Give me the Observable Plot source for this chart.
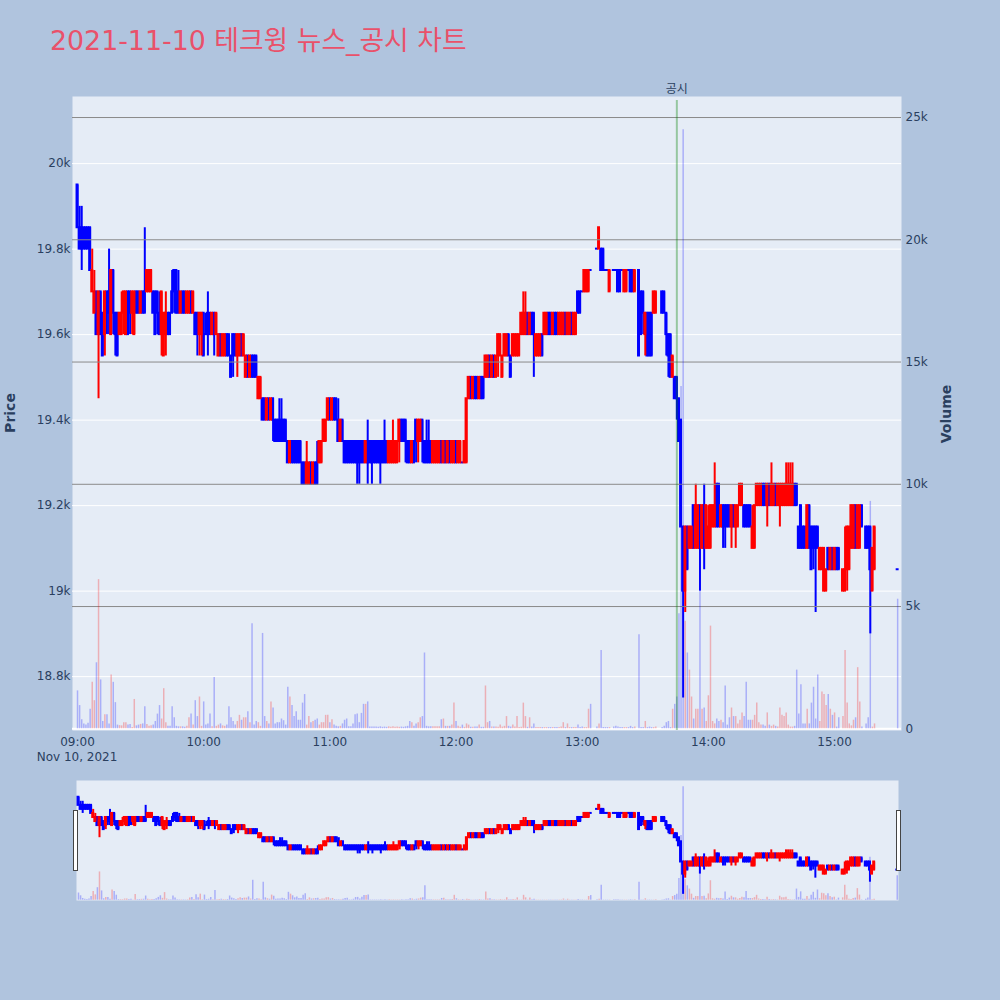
<!DOCTYPE html>
<html>
<head>
<meta charset="utf-8">
<script src="https://cdn.jsdelivr.net/npm/d3@7"></script>
<script src="https://cdn.jsdelivr.net/npm/@observablehq/plot@0.6"></script>
<style>
  html, body { margin: 0; padding: 0; background: #B0C4DE; }
  #wrap { position: relative; width: 1000px; height: 1000px; background: #B0C4DE; overflow: hidden;
          font-family: "DejaVu Sans", "Noto Sans CJK KR", sans-serif; color: #2a3f5f; }
  .layer { position: absolute; left: 0; top: 0; }
  .layer svg { display: block; }
  #title { position: absolute; left: 50px; top: 28px; font-size: 26.8px; line-height: 26px; color: #E9516A; white-space: nowrap; }
  .axtitle { position: absolute; font-size: 14px; font-weight: bold; line-height: 16px; white-space: nowrap; transform: translate(-50%, -50%) rotate(-90deg); }
  #date { position: absolute; left: 77px; top: 750px; font-size: 12px; line-height: 14px; transform: translateX(-50%); white-space: nowrap; }
  .handle { position: absolute; top: 810px; width: 5px; height: 61px; box-sizing: border-box; background: #fff; border: 1px solid #444; }
</style>
</head>
<body>
<div id="wrap">
  <div id="title"></div>
  <div id="mainPrice" class="layer"></div>
  <div id="mainVol" class="layer"></div>
  <div id="sliderVol" class="layer" style="top:780px"></div>
  <div id="sliderPrice" class="layer" style="top:780px"></div>
  <div class="handle" style="left:73px"></div>
  <div class="handle" style="left:896px"></div>
  <div class="axtitle" style="left:10px; top:413px">Price</div>
  <div class="axtitle" style="left:946px; top:414px">Volume</div>
  <div id="date">Nov 10, 2021</div>
</div>
<script>
// ---------- data ----------
const chartTitle = "2021-11-10 테크윙 뉴스_공시 차트";
const sessionDate = "2021-11-10";
const timeTicks = ["09:00", "10:00", "11:00", "12:00", "13:00", "14:00", "15:00"];
const priceTicks = [18800, 19000, 19200, 19400, 19600, 19800, 20000];
const volumeTicks = [0, 5000, 10000, 15000, 20000, 25000];
const disclosure = [{ time: "13:45", label: "공시" }];

// rows: [minute after 09:00, open, high, low, close, volume]
const bars0900 = [
  [0,19950,19950,19850,19850,1550],[1,19850,19900,19800,19800,950],[2,19850,19900,19750,19800,370],
  [3,19850,19850,19800,19800,200],[4,19850,19850,19800,19800,150],[5,19850,19850,19800,19800,230],
  [6,19850,19850,19750,19750,800],[7,19700,19800,19700,19750,1900],[8,19650,19750,19650,19700,1150],
  [9,19700,19700,19600,19600,2700],[10,19600,19700,19450,19700,6100],[11,19700,19700,19600,19600,2000],
  [12,19650,19650,19550,19550,300],[13,19600,19700,19550,19700,570],[14,19700,19700,19600,19650,570],
  [15,19700,19800,19600,19650,200],[16,19600,19750,19600,19750,2200],[17,19750,19750,19600,19650,1900],
  [18,19650,19650,19550,19600,1070],[19,19650,19650,19550,19550,150],[20,19600,19650,19600,19650,130],
  [21,19600,19700,19600,19650,120],[22,19650,19700,19600,19700,250],[23,19600,19700,19600,19700,250],
  [24,19700,19700,19600,19600,150],[25,19700,19700,19600,19650,180],[26,19650,19700,19600,19700,50],
  [27,19600,19700,19600,19700,1200],[28,19700,19700,19650,19650,120],[29,19700,19700,19650,19650,150],
  [30,19650,19700,19650,19700,180],[31,19700,19700,19650,19650,200],[32,19700,19850,19650,19650,900],
  [33,19700,19750,19700,19750,180],[34,19700,19750,19700,19750,100],[35,19700,19750,19700,19750,120],
  [36,19700,19700,19650,19650,150],[37,19700,19700,19600,19600,300],[38,19700,19700,19600,19650,600],
  [39,19650,19700,19600,19600,950],[40,19600,19700,19550,19700,400],[41,19550,19650,19550,19650,1640],
  [42,19600,19700,19550,19650,250],[43,19650,19650,19600,19600,100],[44,19650,19650,19600,19600,100],
  [45,19700,19750,19650,19650,900],[46,19750,19750,19650,19700,450],[47,19750,19750,19650,19650,100],
  [48,19700,19750,19650,19650,80],[49,19650,19700,19650,19700,80],[50,19700,19700,19650,19650,80],
  [51,19700,19700,19650,19650,60],[52,19650,19700,19650,19700,100],[53,19650,19700,19650,19700,450],
  [54,19700,19700,19650,19650,600],[55,19650,19700,19650,19700,150],[56,19650,19650,19600,19600,1150],
  [57,19650,19650,19550,19600,500],[58,19600,19650,19550,19650,1300],[59,19600,19650,19550,19650,100]
];
const bars1000 = [
  [60,19650,19650,19550,19550,1100],[61,19600,19650,19600,19600,150],[62,19650,19700,19550,19600,200],
  [63,19650,19650,19600,19600,600],[64,19600,19650,19600,19650,80],[65,19650,19650,19550,19600,2100],
  [66,19600,19650,19600,19650,100],[67,19550,19600,19550,19600,150],[68,19600,19600,19550,19550,200],
  [69,19550,19600,19550,19600,120],[70,19550,19600,19550,19600,100],[71,19600,19600,19550,19550,150],
  [72,19600,19600,19550,19550,900],[73,19550,19550,19500,19500,450],[74,19600,19600,19500,19550,300],
  [75,19600,19600,19550,19550,150],[76,19550,19600,19500,19600,300],[77,19550,19600,19550,19600,550],
  [78,19600,19600,19550,19550,350],[79,19550,19600,19550,19600,450],[80,19500,19550,19500,19550,450],
  [81,19550,19550,19500,19500,700],[82,19500,19550,19500,19550,250],[83,19550,19550,19500,19500,4300],
  [84,19550,19550,19500,19500,150],[85,19550,19550,19500,19500,300],[86,19450,19500,19450,19500,250],
  [87,19450,19500,19450,19500,100],[88,19450,19450,19400,19400,3900],[89,19450,19450,19400,19400,500],
  [90,19400,19450,19400,19450,300],[91,19450,19450,19400,19400,200],[92,19400,19450,19400,19450,1100],
  [93,19450,19450,19350,19400,850],[94,19400,19400,19350,19350,200],[95,19400,19400,19350,19350,250],
  [96,19400,19450,19350,19350,250],[97,19400,19450,19350,19350,400],[98,19400,19400,19350,19350,330],
  [99,19400,19400,19350,19350,150],[100,19350,19350,19300,19300,1700],[101,19300,19350,19300,19350,1300],
  [102,19350,19350,19300,19300,950],[103,19350,19350,19300,19300,500],[104,19350,19350,19300,19300,700],
  [105,19350,19350,19300,19300,350],[106,19350,19350,19300,19300,350],[107,19300,19300,19250,19250,1050],
  [108,19300,19300,19250,19250,1400],[109,19250,19350,19250,19300,150],[110,19250,19300,19250,19300,500],
  [111,19300,19300,19250,19250,250],[112,19250,19300,19250,19300,300],[113,19300,19300,19250,19250,350],
  [114,19300,19350,19250,19250,400],[115,19300,19350,19300,19350,150],[116,19300,19350,19300,19350,250],
  [117,19350,19400,19350,19400,250],[118,19350,19400,19350,19400,550],[119,19400,19450,19400,19450,550]
];
const bars1100 = [
  [120,19450,19450,19400,19400,250],[121,19400,19450,19400,19450,370],[122,19450,19450,19400,19400,150],
  [123,19450,19450,19400,19400,100],[124,19400,19450,19350,19350,80],[125,19350,19400,19350,19400,100],
  [126,19400,19400,19350,19350,200],[127,19350,19350,19300,19300,350],[128,19350,19350,19300,19300,400],
  [129,19350,19350,19300,19300,80],[130,19350,19350,19300,19300,80],[131,19350,19350,19300,19300,200],
  [132,19350,19350,19300,19300,570],[133,19350,19350,19250,19300,600],[134,19350,19350,19250,19300,250],
  [135,19350,19350,19300,19300,630],[136,19350,19350,19300,19300,1000],[137,19300,19350,19300,19350,1000],
  [138,19350,19400,19250,19300,1100],[139,19350,19350,19300,19300,70],[140,19350,19350,19250,19300,70],
  [141,19350,19350,19300,19300,70],[142,19350,19350,19300,19300,70],[143,19350,19350,19300,19300,60],
  [144,19350,19350,19250,19300,80],[145,19350,19350,19300,19300,60],[146,19350,19400,19300,19300,70],
  [147,19350,19350,19300,19300,60],[148,19300,19350,19300,19350,80],[149,19300,19350,19300,19350,60],
  [150,19300,19400,19300,19350,80],[151,19300,19350,19300,19350,60],[152,19300,19350,19300,19350,70],
  [153,19350,19400,19300,19400,60],[154,19400,19400,19350,19350,70],[155,19400,19400,19350,19350,60],
  [156,19400,19400,19300,19350,80],[157,19350,19350,19300,19300,100],[158,19350,19350,19300,19300,300],
  [159,19300,19350,19300,19350,250],[160,19350,19350,19300,19300,100],[161,19400,19400,19300,19350,200],
  [162,19350,19400,19300,19400,250],[163,19350,19400,19350,19400,450],[164,19400,19400,19300,19350,500],
  [165,19350,19350,19300,19300,3100],[166,19350,19400,19300,19300,100],[167,19350,19400,19300,19300,80],
  [168,19350,19350,19300,19300,80],[169,19300,19350,19300,19350,80],[170,19300,19350,19300,19350,80],
  [171,19300,19350,19300,19350,80],[172,19300,19350,19300,19350,80],[173,19350,19350,19300,19300,370],
  [174,19300,19350,19300,19350,400],[175,19350,19350,19300,19300,100],[176,19300,19350,19300,19350,100],
  [177,19350,19350,19300,19300,100],[178,19300,19350,19300,19350,150],[179,19300,19350,19300,19350,1050]
];
const bars1200 = [
  [180,19350,19350,19300,19300,300],[181,19300,19350,19300,19350,100],[182,19300,19350,19300,19350,60],
  [183,19300,19300,19300,19300,150],[184,19300,19350,19300,19350,60],[185,19300,19450,19300,19450,200],
  [186,19450,19500,19450,19500,150],[187,19500,19500,19450,19450,60],[188,19450,19500,19450,19500,60],
  [189,19500,19500,19450,19450,70],[190,19500,19500,19450,19450,70],[191,19450,19500,19450,19500,150],
  [192,19500,19500,19450,19450,60],[193,19500,19500,19450,19450,60],[194,19500,19550,19500,19550,1750],
  [195,19500,19550,19500,19550,250],[196,19550,19550,19500,19500,300],[197,19500,19550,19500,19550,70],
  [198,19550,19550,19500,19500,70],[199,19500,19550,19500,19550,70],[200,19550,19600,19500,19600,60],
  [201,19550,19600,19550,19600,150],[202,19500,19550,19500,19550,70],[203,19550,19600,19550,19600,100],
  [204,19550,19600,19550,19600,500],[205,19600,19600,19550,19550,100],[206,19550,19550,19500,19500,70],
  [207,19550,19600,19550,19600,150],[208,19550,19600,19550,19600,70],[209,19550,19600,19550,19600,500],
  [210,19550,19600,19550,19600,50],[211,19600,19650,19600,19650,60],[212,19600,19700,19600,19650,1050],
  [213,19600,19700,19600,19650,500],[214,19650,19650,19600,19600,60],[215,19600,19650,19600,19650,450],
  [216,19650,19650,19600,19600,70],[217,19650,19650,19500,19600,200],[218,19550,19600,19550,19600,50],
  [219,19550,19600,19550,19600,50],[220,19550,19600,19550,19600,50],[221,19600,19600,19550,19550,50],
  [222,19600,19650,19600,19650,50],[223,19600,19650,19600,19650,50],[224,19650,19650,19600,19600,50],
  [225,19650,19650,19600,19600,50],[226,19600,19650,19600,19650,50],[227,19650,19650,19600,19600,50],
  [228,19650,19650,19600,19600,50],[229,19600,19650,19600,19650,50],[230,19600,19650,19600,19650,70],
  [231,19600,19650,19600,19650,250],[232,19650,19650,19600,19600,50],[233,19600,19650,19600,19650,200],
  [234,19600,19650,19600,19650,50],[235,19650,19650,19600,19600,50],[236,19600,19650,19600,19650,50],
  [237,19600,19650,19600,19650,50],[238,19700,19700,19650,19650,150],[239,19700,19700,19650,19650,50]
];
const bars1300 = [
  [240,19700,19700,19700,19700,70],[241,19700,19750,19700,19750,50],[242,19700,19750,19700,19750,50],
  [243,19700,19750,19700,19750,800],[244,19750,19750,19750,19750,1000],[247,19800,19800,19800,19800,70],
  [248,19800,19850,19800,19850,200],[249,19800,19800,19750,19750,3200],[250,19800,19800,19750,19750,50],
  [251,19750,19750,19750,19750,50],[252,19750,19750,19750,19750,50],[253,19700,19750,19700,19750,50],
  [255,19750,19750,19750,19750,70],[256,19750,19750,19750,19750,100],[257,19750,19750,19700,19700,70],
  [258,19750,19750,19700,19700,50],[259,19750,19750,19750,19750,50],[260,19700,19750,19700,19750,50],
  [261,19700,19750,19700,19750,50],[262,19750,19750,19750,19750,50],[263,19750,19750,19700,19700,100],
  [264,19750,19750,19700,19700,50],[265,19700,19750,19700,19750,70],[267,19750,19750,19550,19550,3850],
  [268,19700,19700,19600,19600,50],[269,19700,19700,19600,19650,50],[270,19600,19650,19550,19650,300],
  [271,19650,19650,19550,19550,50],[272,19650,19650,19550,19550,70],[273,19650,19650,19550,19550,50],
  [274,19650,19700,19650,19700,50],[275,19650,19700,19650,19700,70],[278,19700,19700,19650,19650,50],
  [279,19700,19700,19650,19650,100],[280,19650,19650,19550,19600,250],[281,19600,19600,19500,19550,300],
  [282,19600,19600,19500,19500,50],[283,19500,19550,19500,19550,800],[284,19500,19500,19450,19450,1000],
  [285,19500,19500,19400,19450,1300],[286,19450,19450,19350,19350,4700],[287,19400,19400,19150,19150,14000],
  [288,19150,19150,18750,19000,24500],[289,19000,19150,18950,19150,4400],[290,19150,19150,19050,19050,3100],
  [291,19100,19150,19100,19150,2400],[292,19100,19150,19100,19150,1300],[293,19200,19200,19100,19100,400],
  [294,19100,19250,19100,19200,800],[295,19100,19200,19100,19200,800],[296,19200,19200,19000,19100,5700],
  [297,19100,19200,19100,19200,800],[298,19200,19250,19050,19100,850],[299,19100,19200,19100,19200,300]
];
const bars1400 = [
  [300,19100,19200,19100,19150,1350],[301,19100,19200,19100,19200,4200],[302,19150,19200,19150,19200,300],
  [303,19150,19300,19150,19200,200],[304,19250,19250,19150,19150,400],[305,19250,19250,19150,19150,300],
  [306,19150,19200,19150,19200,350],[307,19200,19200,19100,19150,250],[308,19200,19200,19100,19150,1750],
  [309,19200,19200,19150,19150,150],[310,19200,19200,19150,19150,450],[311,19150,19200,19100,19200,850],
  [312,19200,19200,19150,19150,500],[313,19150,19200,19100,19200,500],[314,19150,19200,19150,19200,200],
  [315,19200,19250,19200,19250,350],[316,19200,19250,19200,19250,650],[317,19200,19200,19150,19150,500],
  [318,19200,19200,19150,19150,1900],[319,19200,19200,19150,19150,350],[320,19200,19200,19150,19150,350],
  [321,19100,19200,19100,19150,350],[322,19100,19200,19100,19200,550],[323,19200,19250,19200,19250,1050],
  [324,19200,19250,19200,19250,250],[325,19200,19250,19200,19250,150],[326,19250,19250,19200,19200,150],
  [327,19250,19250,19200,19200,100],[328,19200,19250,19150,19250,650],[329,19250,19250,19200,19200,150],
  [330,19200,19300,19200,19250,100],[331,19200,19250,19200,19250,150],[332,19250,19250,19200,19200,100],
  [333,19200,19250,19200,19250,70],[334,19200,19250,19150,19250,850],[335,19200,19250,19200,19250,550],
  [336,19200,19250,19200,19250,500],[337,19200,19300,19200,19250,650],[338,19200,19300,19200,19250,150],
  [339,19200,19300,19200,19250,70],[340,19200,19300,19200,19250,70],[341,19250,19250,19200,19200,100],
  [342,19250,19250,19200,19200,2400],[343,19150,19150,19100,19100,600],[344,19200,19200,19100,19100,1800],
  [345,19150,19150,19100,19100,200],[346,19150,19150,19100,19100,200],[347,19100,19200,19100,19200,800],
  [348,19200,19200,19100,19100,200],[349,19150,19150,19050,19050,1050],[350,19150,19150,19050,19100,1700],
  [351,19150,19150,18950,19100,400],[352,19150,19150,19100,19100,2200],[353,19050,19100,19050,19100,300],
  [354,19050,19100,19050,19100,1500],[355,19000,19100,19000,19100,1400],[356,19000,19050,19000,19050,950],
  [357,19100,19100,19050,19050,1400],[358,19050,19100,19050,19100,800],[359,19100,19100,19050,19050,550]
];
const bars1500 = [
  [360,19050,19100,19050,19100,650],[361,19100,19100,19050,19050,70],[362,19100,19100,19050,19050,450],
  [364,19000,19050,19000,19050,500],[365,19000,19150,19000,19050,3200],[366,19050,19150,19000,19150,1050],
  [367,19050,19150,19050,19150,200],[368,19100,19200,19100,19200,120],[369,19100,19200,19100,19200,350],
  [370,19200,19200,19100,19100,450],[371,19100,19200,19100,19200,2500],[372,19100,19200,19100,19200,1100],
  [373,19200,19200,19150,19150,70],[375,19150,19150,19100,19100,200],[376,19150,19150,19100,19100,450],
  [377,19150,19150,18900,19050,9300],[378,19000,19100,19000,19100,70],[379,19050,19150,19050,19150,200],
  [390,19050,19050,19050,19050,5300]
];

// ---------- styling / layout ----------
const RED = "#FF0000", BLUE = "#0000FF", INK = "#2a3f5f", PANEL = "#E5ECF6";
const FONT = '"DejaVu Sans", "Noto Sans CJK KR", sans-serif';
const at = s => new Date(`${sessionDate}T${s}Z`);
const T0 = at("09:00").getTime();
const rows = [...bars0900, ...bars1000, ...bars1100, ...bars1200, ...bars1300, ...bars1400, ...bars1500]
  .map(([m, o, h, l, c, v]) => ({ t: new Date(T0 + m * 60000), o, h, l, c, v }));
const ups = rows.filter(d => d.c > d.o), downs = rows.filter(d => !(d.c > d.o));
const HALF = 42000; // candle half-width in ms
const fmtK = d => d === 0 ? "0" : `${d / 1000}k`;

const xMain = [at("08:57:37"), at("15:31:50")];
const xSlider = [at("08:59:03"), at("15:30:36")];
const yPrice = [18674, 20157];
const yVol = [-70, 25860];

function candles(data, color) {
  return [
    Plot.ruleX(data, { x: "t", y1: "l", y2: "h", stroke: color, strokeWidth: 2 }),
    Plot.rect(data, { x1: d => new Date(d.t.getTime() - HALF), x2: d => new Date(d.t.getTime() + HALF),
      y1: "o", y2: "c", fill: color, insetTop: -1, insetBottom: -1 })
  ];
}
function volumes(data, color) {
  return Plot.ruleX(data, { x: "t", y1: d => 0, y2: "v", stroke: color, strokeOpacity: 0.26, strokeWidth: 1.5 });
}

document.getElementById("title").textContent = chartTitle;
const baseStyle = { background: "transparent", fontFamily: FONT, fontSize: "12px", color: INK, overflow: "visible" };

const mainPrice = Plot.plot({
  width: 1000, height: 770, marginLeft: 72, marginRight: 99, marginTop: 96, marginBottom: 40,
  style: baseStyle,
  x: { type: "utc", domain: xMain, ticks: timeTicks.map(at), tickFormat: d3.utcFormat("%H:%M"), tickSize: 0, tickPadding: 7, label: null },
  y: { domain: yPrice, ticks: priceTicks, tickFormat: fmtK, tickSize: 0, tickPadding: 2, label: null },
  marks: [
    Plot.frame({ fill: PANEL, stroke: "none" }),
    Plot.ruleY(priceTicks, { stroke: "white", strokeWidth: 1 }),
    ...candles(downs, BLUE),
    ...candles(ups, RED)
  ]
});
document.getElementById("mainPrice").append(mainPrice);

const mainVol = Plot.plot({
  width: 1000, height: 770, marginLeft: 72, marginRight: 99, marginTop: 96, marginBottom: 40,
  style: baseStyle,
  x: { type: "utc", domain: xMain, axis: null },
  y: { domain: yVol, axis: "right", ticks: volumeTicks, tickFormat: fmtK, tickSize: 0, tickPadding: 4, label: null },
  marks: [
    Plot.ruleY(volumeTicks.filter(v => v > 0), { stroke: "#8a8a8a", strokeWidth: 1 }),
    Plot.ruleY([0], { stroke: "white", strokeWidth: 2 }),
    volumes(downs, BLUE),
    volumes(ups, RED),
    Plot.ruleX(disclosure, { x: d => at(d.time), stroke: "green", strokeOpacity: 0.35, strokeWidth: 2, insetTop: 4 }),
    Plot.text(disclosure, { x: d => at(d.time), text: "label", frameAnchor: "top", lineAnchor: "middle", dy: -7, fill: INK, fontSize: 12 })
  ]
});
document.getElementById("mainVol").append(mainVol);

const sliderVol = Plot.plot({
  width: 1000, height: 120, marginLeft: 76, marginRight: 102, marginTop: 0, marginBottom: 0,
  style: baseStyle,
  x: { type: "utc", domain: xSlider, axis: null },
  y: { domain: yVol, axis: null },
  marks: [
    Plot.frame({ fill: PANEL, stroke: "none" }),
    volumes(downs, BLUE),
    volumes(ups, RED)
  ]
});
document.getElementById("sliderVol").append(sliderVol);

const sliderPrice = Plot.plot({
  width: 1000, height: 120, marginLeft: 76, marginRight: 102, marginTop: 0, marginBottom: 0,
  style: baseStyle,
  x: { type: "utc", domain: xSlider, axis: null },
  y: { domain: yPrice, axis: null },
  marks: [
    ...candles(downs, BLUE),
    ...candles(ups, RED)
  ]
});
document.getElementById("sliderPrice").append(sliderPrice);
</script>
</body>
</html>
